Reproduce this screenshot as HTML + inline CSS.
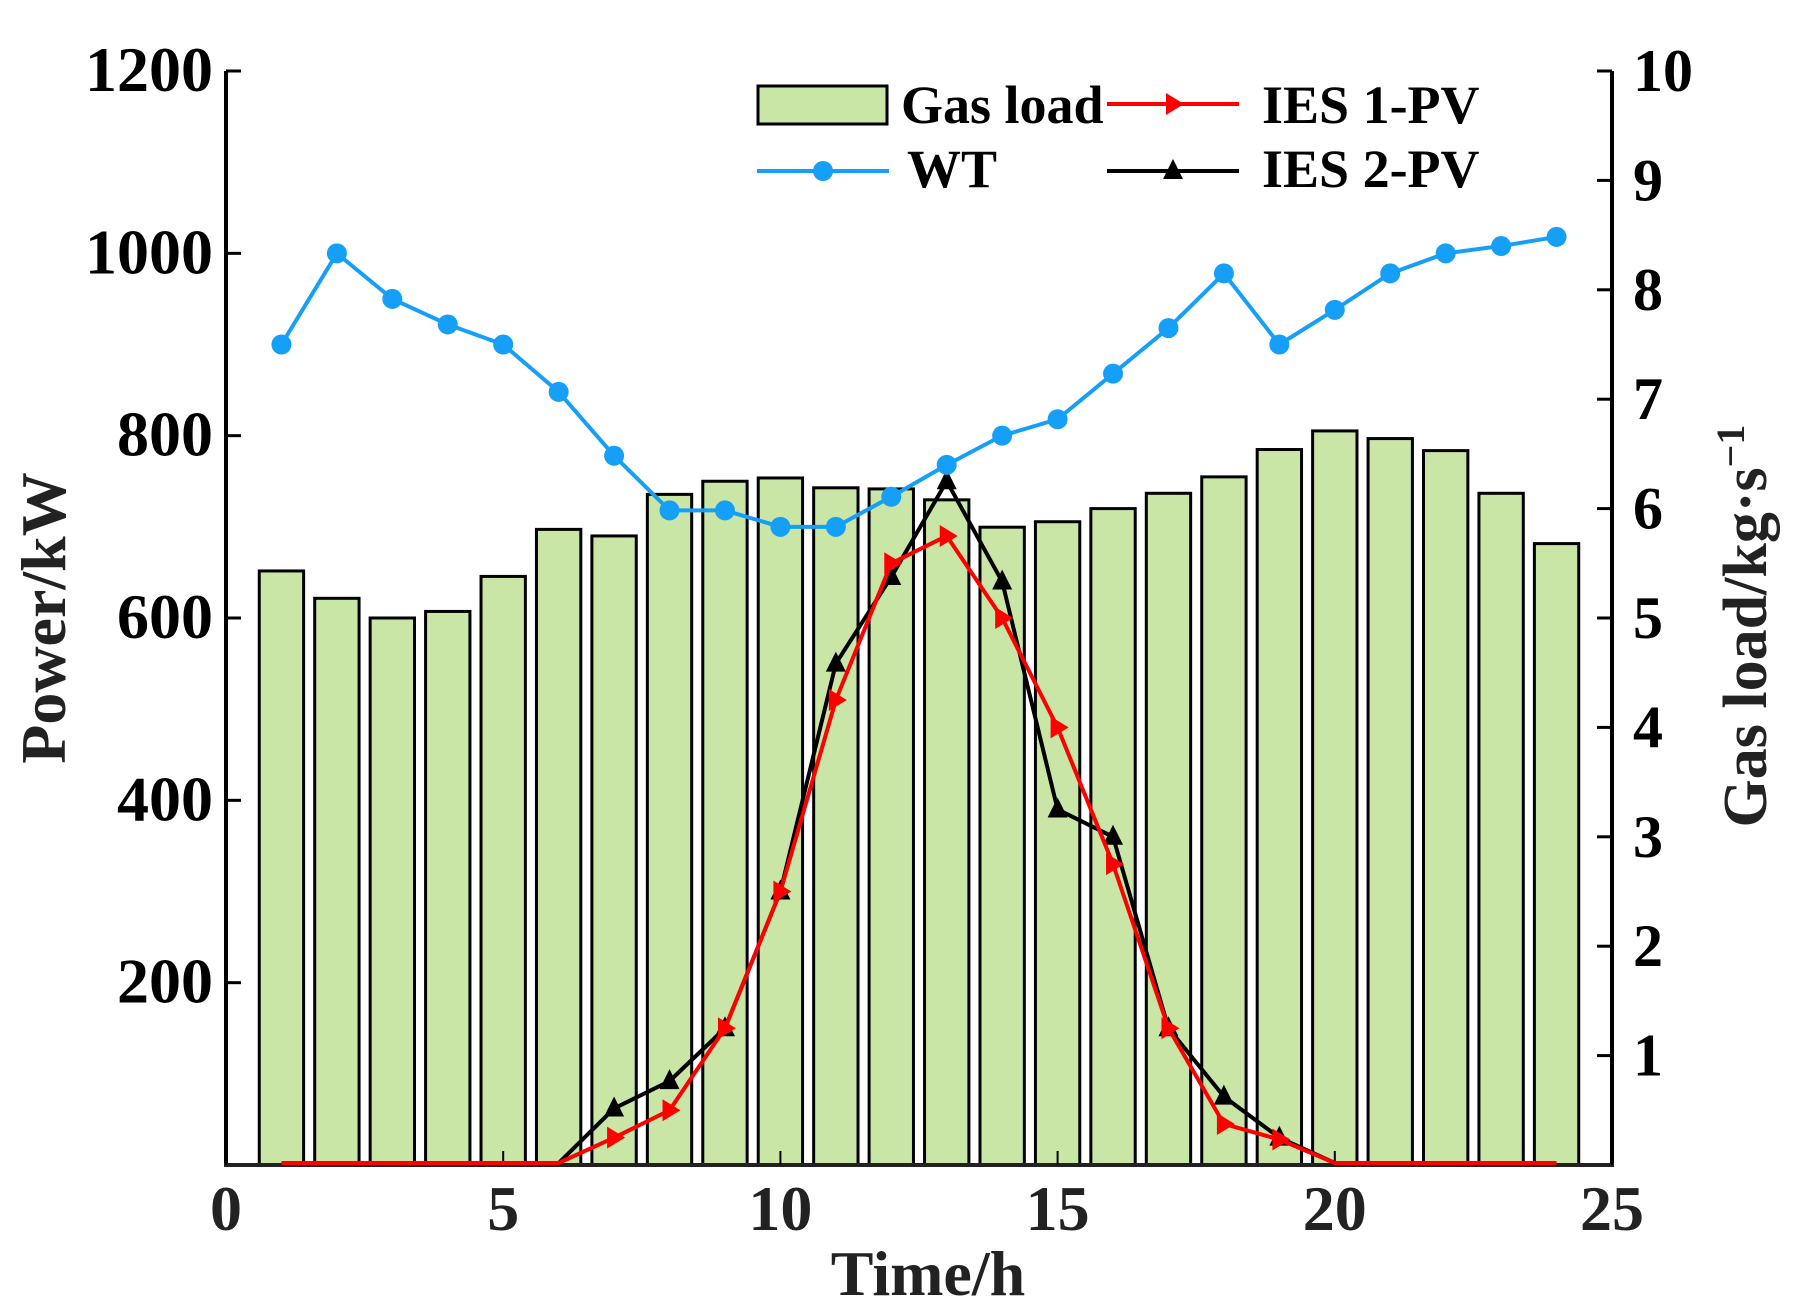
<!DOCTYPE html>
<html><head><meta charset="utf-8"><style>
html,body{margin:0;padding:0;background:#fff;}
svg{display:block;font-family:"Liberation Serif",serif;font-weight:bold;}
</style></head><body>
<svg id="chart" width="1799" height="1310" viewBox="0 0 1799 1310" xmlns="http://www.w3.org/2000/svg">
<g id="bars"></g>
<g id="axes"></g>
<g id="lines"></g>
<g id="legend"></g>
</svg>
<script>
const hours = [1,2,3,4,5,6,7,8,9,10,11,12,13,14,15,16,17,18,19,20,21,22,23,24];
const gasLoad = [5.43,5.18,5.0,5.06,5.38,5.81,5.75,6.13,6.25,6.28,6.19,6.18,6.08,5.83,5.88,6.0,6.14,6.29,6.54,6.71,6.64,6.53,6.14,5.68];
const wt = [900,1000,950,922,900,848,778,718,718,700,700,733,768,800,818,868,918,978,900,938,978,1000,1008,1018];
const ies1 = [0,0,0,0,0,0,30,60,150,300,510,660,690,600,480,330,150,45,28,0,0,0,0,0];
const ies2 = [0,0,0,0,0,0,62,92,150,300,550,645,750,640,390,360,150,75,30,0];
const xTicks = [0,5,10,15,20,25];
const yLeftTicks = [200,400,600,800,1000,1200];
const yRightTicks = [1,2,3,4,5,6,7,8,9,10];

const NS = "http://www.w3.org/2000/svg";
const X0=226, X1=1612, Y0=1165, Y1=71;
const xs = v => X0 + (v/25)*(X1-X0);
const yl = v => Y0 - (v/1200)*(Y0-Y1);
const yr = v => Y0 - (v/10)*(Y0-Y1);
function mk(tag, attrs, parent){const e=document.createElementNS(NS,tag);for(const k in attrs)e.setAttribute(k,attrs[k]);parent.appendChild(e);return e;}
const gB=document.getElementById('bars'), gL=document.getElementById('lines'), gA=document.getElementById('axes'), gG=document.getElementById('legend');

const bw = (X1-X0)/25*0.8;
gasLoad.forEach((v,i)=>{
  const r = mk('rect',{x:xs(hours[i])-bw/2,y:yr(v),width:bw,height:Y0-yr(v),fill:'#c9e6a7',stroke:'#000','stroke-width':3},gB);
  
  
});

function line(vals,color,name){
  const pts = vals.map((v,i)=>xs(hours[i])+','+(yl(v)-(v===0?2:0))).join(' ');
  const p = mk('polyline',{points:pts,fill:'none',stroke:color,'stroke-width':4,'stroke-linejoin':'round'},gL);
  
  
}
line(ies2,'#000','ies2-pv-line');
ies2.forEach((v,i)=>{ if(v>0){const x=xs(hours[i]),y=yl(v);
  const m=mk('polygon',{points:`${x},${y-12} ${x-10},${y+8} ${x+10},${y+8}`,fill:'#000'},gL);
  
  }});
line(ies1,'#ff0000','ies1-pv-line');
ies1.forEach((v,i)=>{ if(v>0){const x=xs(hours[i]),y=yl(v);
  const m=mk('polygon',{points:`${x+11},${y} ${x-7},${y-11} ${x-7},${y+11}`,fill:'#ff0000'},gL);
  
  }});
line(wt,'#169ff7','wt-line');
wt.forEach((v,i)=>{const c=mk('circle',{cx:xs(hours[i]),cy:yl(v),r:10,fill:'#169ff7'},gL);
  
  });

mk('line',{x1:X0,y1:Y1,x2:X0,y2:Y0+2,stroke:'#000','stroke-width':4},gA);
mk('line',{x1:X1,y1:Y1,x2:X1,y2:Y0+2,stroke:'#000','stroke-width':4},gA);
mk('line',{x1:X0-2,y1:Y0,x2:X1+2,y2:Y0,stroke:'#222','stroke-width':4},gA);
xTicks.forEach(t=>{
  mk('line',{x1:xs(t),y1:Y0,x2:xs(t),y2:Y0-14,stroke:'#000','stroke-width':2},gA);
  const tx=mk('text',{x:xs(t),y:Y0+65,'font-size':64,'text-anchor':'middle',fill:'#222'},gA);
  tx.textContent=t;
  
  
});
yLeftTicks.forEach(t=>{
  mk('line',{x1:X0,y1:yl(t),x2:X0+15,y2:yl(t),stroke:'#000','stroke-width':3},gA);
  const tx=mk('text',{x:213,y:yl(t)+20,'font-size':64,'text-anchor':'end',fill:'#000'},gA);
  tx.textContent=t;
  
  
});
yRightTicks.forEach(t=>{
  mk('line',{x1:X1,y1:yr(t),x2:X1-15,y2:yr(t),stroke:'#000','stroke-width':3},gA);
  const tx=mk('text',{x:1633,y:yr(t)+20,'font-size':60,'text-anchor':'start',fill:'#000'},gA);
  tx.textContent=t;
  
  
});
const xt=mk('text',{x:928,y:1295,'font-size':64,'text-anchor':'middle',fill:'#222'},gA);
xt.textContent='Time/h';


const ylt=mk('text',{x:0,y:0,'font-size':64,'text-anchor':'middle',fill:'#222',transform:'translate(65,618) rotate(-90)'},gA);
ylt.textContent='Power/kW';


const yrt=mk('text',{x:0,y:0,'font-size':62,'text-anchor':'middle',fill:'#222',transform:'translate(1766,626) rotate(-90)'},gA);
yrt.innerHTML='Gas load/kg·s<tspan dy="-22" font-size="40">−1</tspan>';



mk('rect',{x:758,y:86,width:129,height:38,fill:'#c9e6a7',stroke:'#000','stroke-width':3},gG);
mk('line',{x1:757,y1:171,x2:889,y2:171,stroke:'#169ff7','stroke-width':4},gG);
mk('circle',{cx:823,cy:171,r:10,fill:'#169ff7'},gG);
mk('line',{x1:1107,y1:104,x2:1239,y2:104,stroke:'#ff0000','stroke-width':4},gG);
mk('polygon',{points:'1184,104 1166,93 1166,115',fill:'#ff0000'},gG);
mk('line',{x1:1107,y1:171,x2:1239,y2:171,stroke:'#000','stroke-width':4},gG);
mk('polygon',{points:'1173,159 1163,179 1183,179',fill:'#000'},gG);
[['Gas load',901,123],['WT',907,187],['IES 1-PV',1262,123],['IES 2-PV',1262,187]].forEach(d=>{
  const t=mk('text',{x:d[1],y:d[2],'font-size':54,fill:'#000'},gG);
  t.textContent=d[0];
  
  
});
</script>
</body></html>
